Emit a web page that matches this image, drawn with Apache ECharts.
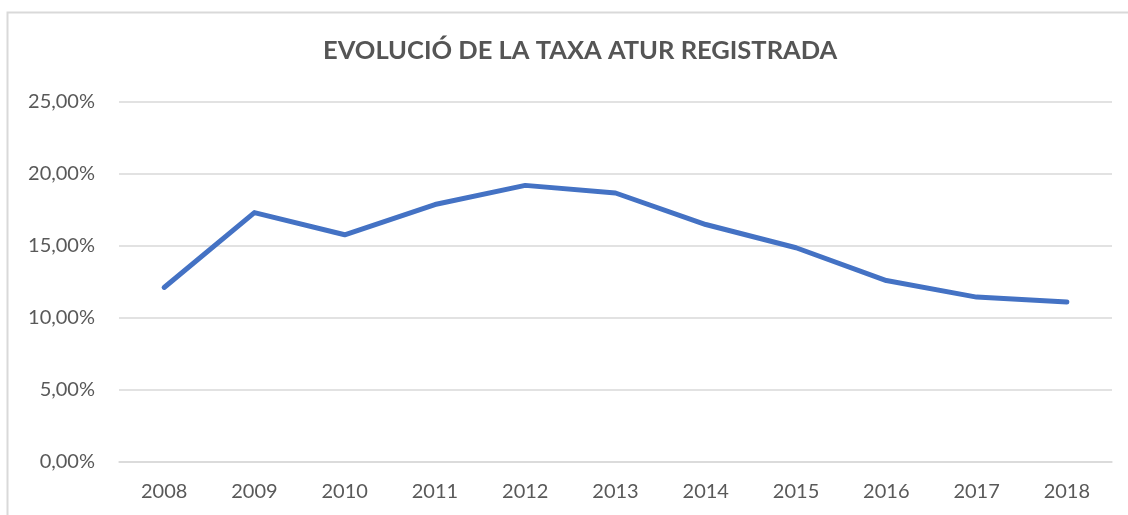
<!DOCTYPE html>
<html>
<head>
<meta charset="utf-8">
<script src="https://cdn.jsdelivr.net/npm/echarts@6/dist/echarts.min.js"></script>
<style>
  html, body { margin: 0; padding: 0; background: #fff; }
  #chart { width: 1128px; height: 515px; }
</style>
</head>
<body>
<div id="chart"></div>
<script>
// anys i taxa d'atur registrada (%)
const years = ['2008', '2009', '2010', '2011', '2012', '2013', '2014', '2015', '2016', '2017', '2018'];
const taxaAtur = [12.12, 17.32, 15.78, 17.88, 19.21, 18.68, 16.49, 14.88, 12.6, 11.45, 11.11];

const chartTitle = 'EVOLUCIÓ DE LA TAXA ATUR REGISTRADA';

const chart = echarts.init(document.getElementById('chart'));

const option = {
    animation: false,
    backgroundColor: '#fff',
    textStyle: { fontFamily: 'Lato' },
    title: {
        text: chartTitle,
        left: 318,
        top: 33,
        textStyle: {
            fontFamily: 'Lato',
            fontWeight: 'bold',
            fontSize: 25.5,
            color: '#555555'
        }
    },
    graphic: [
        {
            type: 'rect',
            shape: { x: 7.5, y: 12.5, width: 1200, height: 600 },
            style: { fill: 'none', stroke: '#d9d9d9', lineWidth: 2 },
            silent: true
        }
    ],
    grid: {
        left: 119,
        right: 16,
        top: 102,
        bottom: 53
    },
    xAxis: {
        type: 'category',
        data: years,
        boundaryGap: true,
        axisLine: { lineStyle: { color: '#d9d9d9', width: 1.5 } },
        axisTick: { show: false },
        axisLabel: {
            color: '#595959',
            fontSize: 20,
            margin: 20
        }
    },
    yAxis: {
        type: 'value',
        min: 0,
        max: 25,
        interval: 5,
        axisLine: { show: false },
        axisTick: { show: false },
        splitLine: { lineStyle: { color: '#d9d9d9', width: 1.5 } },
        axisLabel: {
            color: '#595959',
            fontSize: 20,
            margin: 24,
            formatter: v => v.toFixed(2).replace('.', ',') + '%'
        }
    },
    series: [
        {
            type: 'line',
            data: taxaAtur,
            symbol: 'none',
            lineStyle: { color: '#4472c4', width: 5, cap: 'round', join: 'round' }
        }
    ]
};

chart.setOption(option);
</script>
</body>
</html>
